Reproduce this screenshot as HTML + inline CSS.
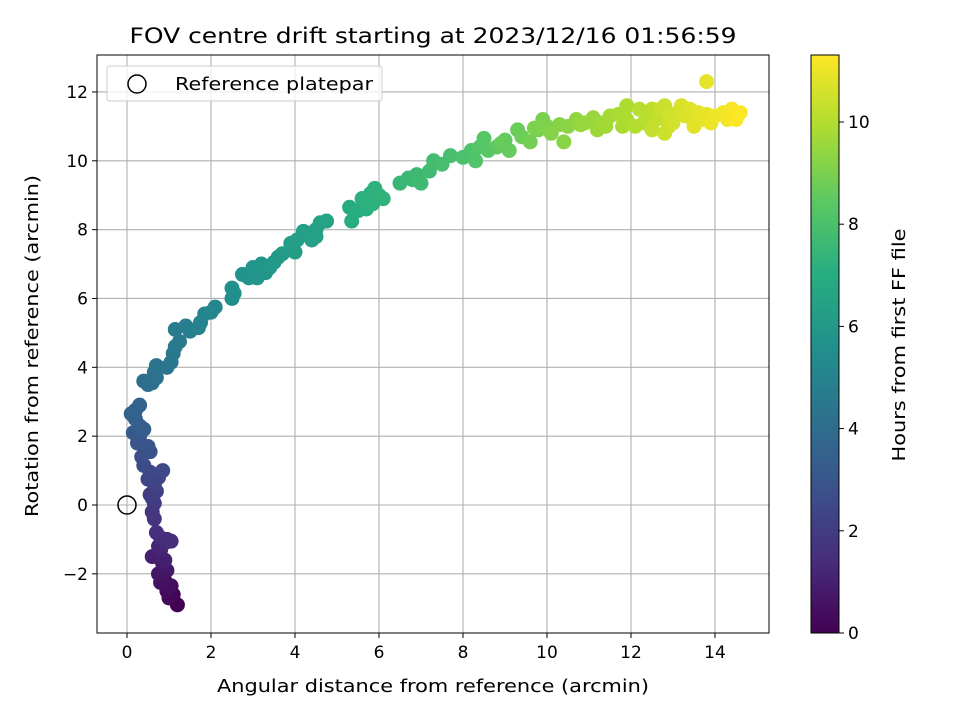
<!DOCTYPE html>
<html><head><meta charset="utf-8"><style>
body{margin:0;background:#fff}
svg{display:block;font-family:"DejaVu Sans","Liberation Sans",sans-serif}
</style></head><body>
<svg id="chart" width="960" height="720" viewBox="0 0 960 720" xmlns="http://www.w3.org/2000/svg">
<rect width="960" height="720" fill="#fff"/>
<defs>
<linearGradient id="vir" x1="0" y1="1" x2="0" y2="0">
<stop offset="0" stop-color="#440154"/><stop offset="0.125" stop-color="#472d7b"/><stop offset="0.25" stop-color="#3b528b"/><stop offset="0.375" stop-color="#2c728e"/><stop offset="0.5" stop-color="#21918c"/><stop offset="0.625" stop-color="#28ae80"/><stop offset="0.75" stop-color="#5ec962"/><stop offset="0.875" stop-color="#addc30"/><stop offset="1" stop-color="#fde725"/>
</linearGradient>
<clipPath id="pc"><rect x="97" y="55" width="672" height="578"/></clipPath>
</defs>
<g id="grid"></g>
<g id="pts" clip-path="url(#pc)"></g>
<circle id="refc" r="9" fill="none" stroke="#000" stroke-width="1.5"/>
<rect x="97" y="55" width="672" height="578" fill="none" stroke="#000" stroke-width="1"/>
<g id="ticks" fill="#000"></g>
<text x="433" y="43" font-size="21" text-anchor="middle" textLength="607" lengthAdjust="spacingAndGlyphs">FOV centre drift starting at 2023/12/16 01:56:59</text>
<text x="433" y="692" font-size="18" text-anchor="middle" textLength="432" lengthAdjust="spacingAndGlyphs">Angular distance from reference (arcmin)</text>
<text transform="translate(38,346) rotate(-90)" font-size="18" text-anchor="middle" textLength="342" lengthAdjust="spacingAndGlyphs">Rotation from reference (arcmin)</text>
<g>
<rect x="107" y="66" width="275" height="35" rx="3" fill="#fff" fill-opacity="0.8" stroke="#ccc"/>
<circle cx="137" cy="84" r="9" fill="none" stroke="#000" stroke-width="1.5"/>
<text x="175" y="90" font-size="18" textLength="198" lengthAdjust="spacingAndGlyphs">Reference platepar</text>
</g>
<rect x="811" y="55" width="28" height="578" fill="url(#vir)" stroke="#000" stroke-width="1"/>
<g id="cbticks"></g>
<text transform="translate(905,345) rotate(-90)" font-size="18" text-anchor="middle" textLength="233" lengthAdjust="spacingAndGlyphs">Hours from first FF file</text>
</svg>
<script>
const xTicks=[0,2,4,6,8,10,12,14];
const yTicks=[-2,0,2,4,6,8,10,12];
const cTicks=[0,2,4,6,8,10];
const xs=[1.2,1.1,1.0,0.95,1.05,0.9,0.8,0.75,0.95,0.85,0.7,0.6,0.8,0.75,0.9,0.95,1.05,0.8,0.7,0.65,0.6,0.65,0.6,0.7,0.65,0.5,0.55,0.85,0.75,0.4,0.35,0.55,0.5,0.25,0.3,0.15,0.3,0.2,0.1,0.2,0.3,0.4,0.5,0.6,0.7,0.65,0.7,0.95,1.05,1.1,1.15,1.25,1.15,1.4,1.5,1.7,1.75,1.85,2.0,2.1,2.5,2.5,2.55,2.75,2.9,3.0,3.1,3.2,3.4,3.5,3.6,3.7,3.9,4.0,4.05,4.2,4.3,4.5,4.6,4.75,4.5,5.3,5.35,5.5,5.6,5.7,5.8,5.9,5.85,6.0,6.1,6.5,6.7,6.9,7.0,7.2,7.3,7.5,7.7,8.0,8.2,8.4,8.5,8.3,8.6,8.8,9.0,9.1,9.3,9.4,9.6,9.8,9.9,10.0,10.1,10.3,10.4,10.5,10.7,10.9,11.1,11.2,11.4,11.5,11.7,11.9,11.9,12.1,12.2,12.4,12.5,12.6,12.5,12.7,12.8,12.8,12.9,13.0,13.1,13.3,13.4,13.5,13.6,13.7,13.8,13.9,13.8,14.2,14.4,14.5,14.6,14.3,12.3,12.9,13.2,12.6,1.0,0.9,0.55,0.4,3.3,4.4,5.6,6.8,8.9,9.7,10.8,11.3,11.8,13.0,13.5,14.0];
const ys=[-2.9,-2.6,-2.7,-2.5,-2.35,-2.2,-2.25,-2.0,-1.9,-1.7,-1.5,-1.5,-1.3,-1.2,-1.1,-1.0,-1.05,-0.95,-0.8,-0.4,-0.2,0.05,0.2,0.4,0.6,0.75,0.95,1.0,0.8,1.15,1.4,1.55,1.7,1.8,2.0,2.1,2.3,2.5,2.65,2.75,2.9,3.6,3.5,3.55,3.7,3.85,4.05,4.0,4.15,4.4,4.6,4.75,5.1,5.2,5.05,5.15,5.3,5.55,5.6,5.75,6.0,6.3,6.15,6.7,6.6,6.9,6.6,7.0,6.9,7.05,7.2,7.3,7.6,7.35,7.7,7.95,7.9,7.8,8.2,8.25,8.0,8.65,8.25,8.55,8.9,8.6,9.05,9.2,8.75,9.0,8.9,9.35,9.5,9.6,9.35,9.7,10.0,9.9,10.15,10.1,10.3,10.4,10.65,10.0,10.3,10.4,10.6,10.3,10.9,10.7,10.55,10.9,11.2,11.0,10.8,11.05,10.55,11.0,11.2,11.1,11.25,10.9,11.0,11.3,11.35,11.2,11.6,11.0,11.5,11.3,11.5,11.2,10.9,11.5,10.8,11.6,11.3,11.1,11.4,11.3,11.5,11.0,11.4,11.2,11.35,11.1,12.3,11.4,11.5,11.2,11.4,11.2,11.1,11.0,11.6,11.4,-2.4,-1.6,0.3,2.2,6.75,7.7,8.9,9.45,10.5,10.95,11.05,11.1,11.0,11.2,11.15,11.3];
const ts=[0,0.1,0.2,0.3,0.35,0.45,0.55,0.65,0.7,0.8,0.9,1.0,1.1,1.2,1.3,1.35,1.4,1.45,1.5,1.7,1.8,1.9,2.0,2.1,2.2,2.35,2.45,2.5,2.3,2.6,2.7,2.8,2.9,3.0,3.1,3.2,3.3,3.4,3.5,3.55,3.6,4.0,4.05,4.1,4.2,4.25,4.3,4.4,4.45,4.5,4.55,4.6,4.7,4.8,4.85,4.95,5.0,5.1,5.15,5.2,5.5,5.55,5.6,5.7,5.8,5.85,5.9,5.95,6.0,6.05,6.1,6.15,6.2,6.25,6.3,6.35,6.4,6.45,6.5,6.55,6.5,6.9,6.95,7.0,7.05,7.1,7.15,7.2,7.2,7.25,7.3,7.5,7.6,7.65,7.7,7.75,7.8,7.85,7.9,8.0,8.1,8.2,8.3,8.15,8.35,8.45,8.55,8.6,8.7,8.75,8.85,8.95,9.0,9.1,9.15,9.2,9.25,9.3,9.4,9.5,9.55,9.6,9.7,9.75,9.8,9.9,9.9,10.0,10.05,10.1,10.2,10.25,10.3,10.35,10.4,10.4,10.5,10.55,10.6,10.7,10.75,10.8,10.85,10.9,10.95,11.0,10.9,11.1,11.2,11.25,11.3,11.15,10.0,10.45,10.65,10.2,0.4,1.0,2.0,3.35,5.9,6.4,7.15,7.6,8.65,9.05,9.5,9.65,9.85,10.5,10.8,11.05];
const X0=127,XS=42,Y0=505,YS=34.42,CB0=633,CBS=51.1,TMAX=11.31;
const sx=v=>X0+v*XS, sy=v=>Y0-v*YS;
const vir=[[68,1,84],[71,45,123],[59,82,139],[44,114,142],[33,145,140],[40,174,128],[94,201,98],[173,220,48],[253,231,37]];
function col(t){let f=Math.max(0,Math.min(1,t/TMAX))*8,i=Math.min(7,Math.floor(f)),r=f-i;const a=vir[i],b=vir[i+1];return `rgb(${a.map((c,k)=>Math.round(c+(b[k]-c)*r)).join(',')})`;}
const NS="http://www.w3.org/2000/svg";
const g=document.getElementById('grid'),tk=document.getElementById('ticks'),pts=document.getElementById('pts'),cb=document.getElementById('cbticks');
function mk(tag,attrs,parent){const e=document.createElementNS(NS,tag);for(const k in attrs)e.setAttribute(k,attrs[k]);parent.appendChild(e);return e;}
xTicks.forEach(v=>{
 const l=mk('line',{x1:sx(v),x2:sx(v),y1:55,y2:633,stroke:'#b0b0b0','stroke-width':1.1},g);
 
 
 mk('line',{x1:sx(v),x2:sx(v),y1:633,y2:638,stroke:'#000'},tk);
 const t=mk('text',{x:sx(v),y:658,'text-anchor':'middle','font-size':17},tk);
 t.textContent=v;
 
 
});
yTicks.forEach(v=>{
 const l=mk('line',{x1:97,x2:769,y1:sy(v),y2:sy(v),stroke:'#b0b0b0','stroke-width':1.1},g);
 
 
 mk('line',{x1:92,x2:97,y1:sy(v),y2:sy(v),stroke:'#000'},tk);
 const t=mk('text',{x:88,y:sy(v)+6,'text-anchor':'end','font-size':17},tk);
 t.textContent=v<0?'\u2212'+(-v):v;
 
 
});
cTicks.forEach(v=>{
 const y=CB0-v*CBS;
 mk('line',{x1:839,x2:844,y1:y,y2:y,stroke:'#000'},cb);
 const t=mk('text',{x:848,y:y+6,'font-size':17},cb);
 t.textContent=v;
 
 
});
xs.map((x,i)=>i).sort((a,b)=>ts[a]-ts[b]).forEach(i=>{
 const c=mk('circle',{cx:sx(xs[i]),cy:sy(ys[i]),r:7.5,fill:col(ts[i])},pts);
 
 
});
const rc=document.getElementById('refc');rc.setAttribute('cx',sx(0));rc.setAttribute('cy',sy(0));
</script>
</body></html>
